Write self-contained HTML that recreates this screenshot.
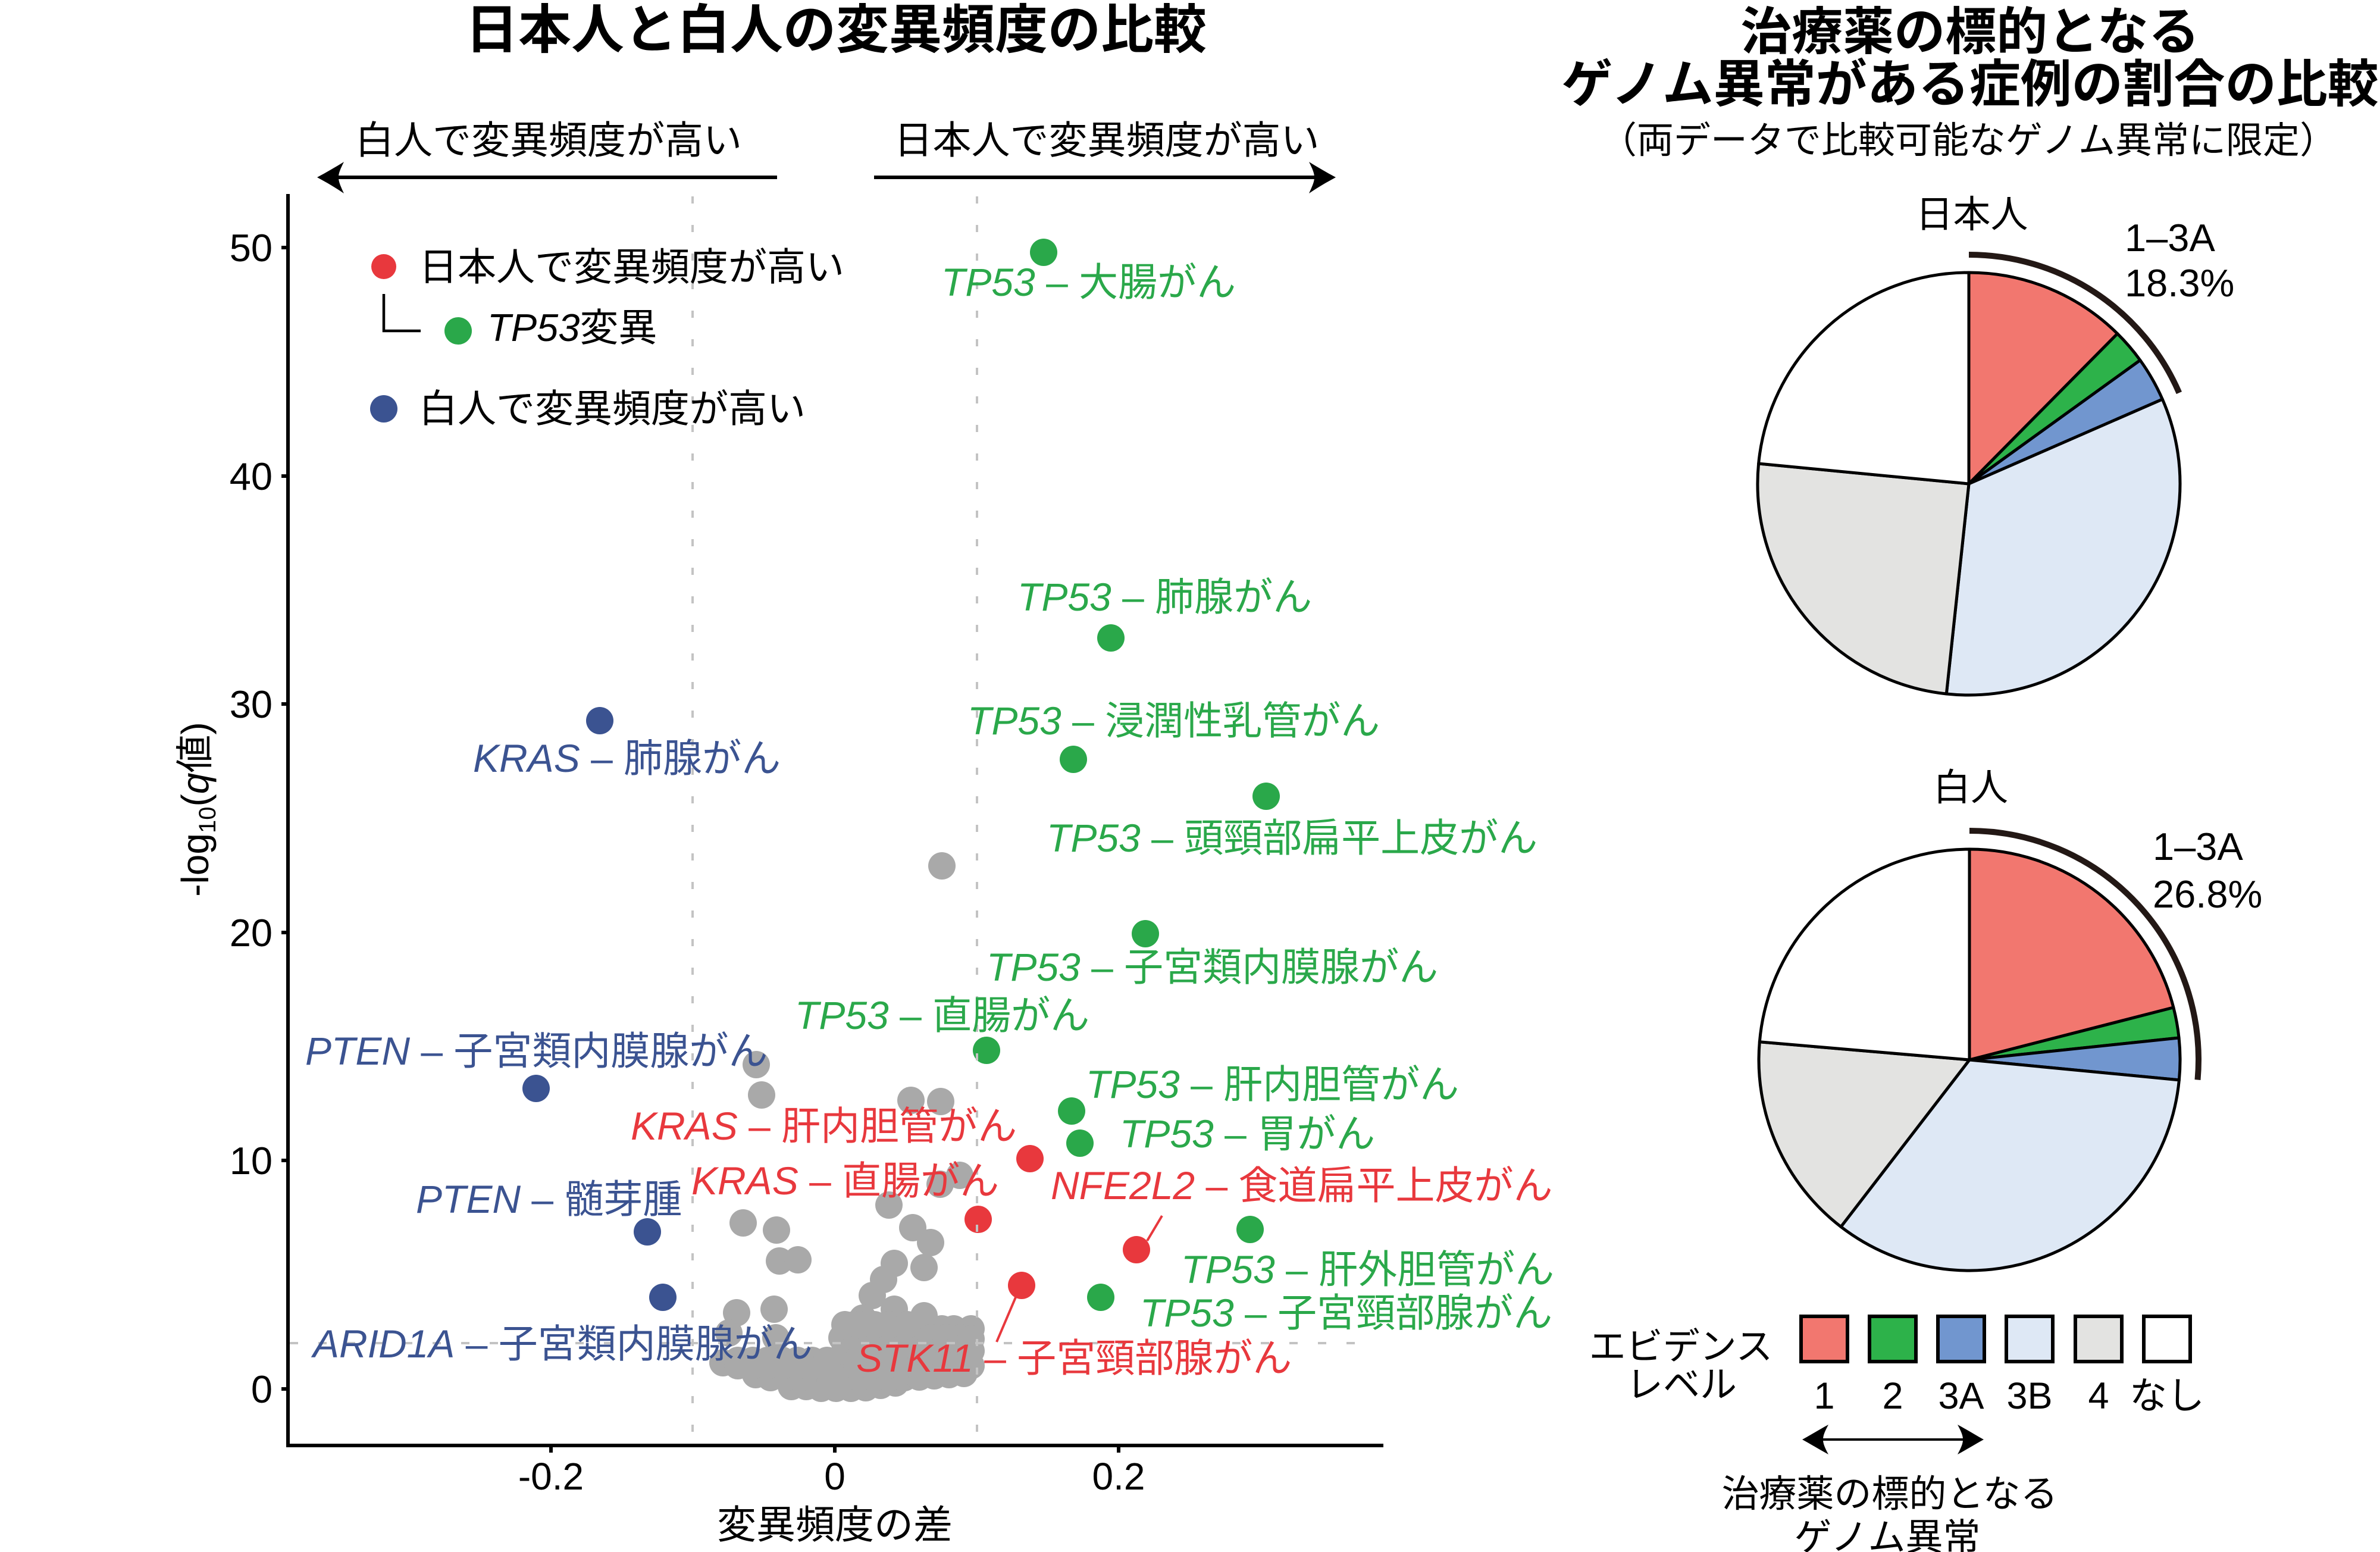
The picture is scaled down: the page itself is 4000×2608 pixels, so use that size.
<!DOCTYPE html>
<html><head><meta charset="utf-8">
<style>
html,body{margin:0;padding:0;background:#fff;}
svg{display:block;}
text{font-family:"Liberation Sans","Noto Sans CJK JP",sans-serif;}
</style></head>
<body>
<svg xmlns="http://www.w3.org/2000/svg" width="4000" height="2608" viewBox="0 0 4000 2608">
<rect width="4000" height="2608" fill="#fff"/>

<!-- LEFT TITLE -->
<text x="1405" y="81" font-size="89" font-weight="700" text-anchor="middle" fill="#000">日本人と白人の変異頻度の比較</text>

<!-- direction arrows -->
<text x="922" y="258" font-size="65" text-anchor="middle" fill="#000">白人で変異頻度が高い</text>
<text x="1860" y="258" font-size="65" text-anchor="middle" fill="#000">日本人で変異頻度が高い</text>
<line x1="560" y1="298" x2="1306" y2="298" stroke="#000" stroke-width="6"/>
<path d="M533,298 C548,290 565,280 578,272 C571,286 569,292 569,298 C569,304 571,310 578,325 C565,316 548,306 533,298 Z" fill="#000"/>
<line x1="1469" y1="298" x2="2218" y2="298" stroke="#000" stroke-width="6"/>
<path d="M2245,298 C2230,290 2213,280 2200,272 C2207,286 2209,292 2209,298 C2209,304 2207,310 2200,325 C2213,316 2230,306 2245,298 Z" fill="#000"/>

<!-- grey points -->
<g fill="#a9a9a9">
<circle cx="1583" cy="1455" r="23"/>
<circle cx="1271" cy="1789" r="23"/>
<circle cx="1280" cy="1840" r="23"/>
<circle cx="1531" cy="1849" r="23"/>
<circle cx="1581" cy="1851" r="23"/>
<circle cx="1580" cy="1990" r="23"/>
<circle cx="1613" cy="1975" r="23"/>
<circle cx="1494" cy="2025" r="23"/>
<circle cx="1249" cy="2055" r="23"/>
<circle cx="1305" cy="2067" r="23"/>
<circle cx="1534" cy="2063" r="23"/>
<circle cx="1564" cy="2088" r="23"/>
<circle cx="1310" cy="2119" r="23"/>
<circle cx="1341" cy="2117" r="23"/>
<circle cx="1503" cy="2123" r="23"/>
<circle cx="1553" cy="2130" r="23"/>
<circle cx="1485" cy="2150" r="23"/>
<circle cx="1466" cy="2177" r="23"/>
<circle cx="1238" cy="2206" r="23"/>
<circle cx="1301" cy="2200" r="23"/>
<circle cx="1503" cy="2200" r="23"/>
<circle cx="1553" cy="2211" r="23"/>
<circle cx="1431" cy="2227" r="23"/>
<circle cx="1450" cy="2215" r="23"/>
<circle cx="1583" cy="2233" r="23"/>
<circle cx="1603" cy="2233" r="23"/>
<circle cx="1632" cy="2233" r="23"/>
<circle cx="1225" cy="2240" r="23"/>
<circle cx="1304" cy="2248" r="23"/>
<!-- dense mass -->
<circle cx="1330" cy="2330" r="23"/><circle cx="1355" cy="2330" r="23"/><circle cx="1380" cy="2333" r="23"/><circle cx="1405" cy="2333" r="23"/><circle cx="1430" cy="2333" r="23"/><circle cx="1455" cy="2332" r="23"/><circle cx="1480" cy="2328" r="23"/><circle cx="1505" cy="2324" r="23"/>
<circle cx="1270" cy="2310" r="23"/><circle cx="1295" cy="2315" r="23"/><circle cx="1320" cy="2315" r="23"/><circle cx="1345" cy="2315" r="23"/><circle cx="1370" cy="2315" r="23"/><circle cx="1395" cy="2315" r="23"/><circle cx="1420" cy="2315" r="23"/><circle cx="1445" cy="2315" r="23"/><circle cx="1470" cy="2315" r="23"/><circle cx="1495" cy="2315" r="23"/><circle cx="1520" cy="2315" r="23"/><circle cx="1545" cy="2314" r="23"/><circle cx="1570" cy="2312" r="23"/><circle cx="1595" cy="2310" r="23"/><circle cx="1620" cy="2308" r="23"/>
<circle cx="1215" cy="2290" r="23"/><circle cx="1240" cy="2295" r="23"/><circle cx="1265" cy="2295" r="23"/><circle cx="1290" cy="2295" r="23"/><circle cx="1315" cy="2295" r="23"/><circle cx="1340" cy="2295" r="23"/><circle cx="1365" cy="2295" r="23"/><circle cx="1390" cy="2295" r="23"/><circle cx="1415" cy="2295" r="23"/><circle cx="1440" cy="2295" r="23"/><circle cx="1465" cy="2295" r="23"/><circle cx="1490" cy="2295" r="23"/><circle cx="1515" cy="2295" r="23"/><circle cx="1540" cy="2295" r="23"/><circle cx="1565" cy="2295" r="23"/><circle cx="1590" cy="2295" r="23"/><circle cx="1615" cy="2295" r="23"/><circle cx="1632" cy="2295" r="23"/>
<circle cx="1240" cy="2286" r="23"/><circle cx="1265" cy="2286" r="23"/><circle cx="1290" cy="2286" r="23"/><circle cx="1315" cy="2286" r="23"/><circle cx="1340" cy="2286" r="23"/><circle cx="1365" cy="2286" r="23"/><circle cx="1390" cy="2286" r="23"/>
<circle cx="1420" cy="2270" r="23"/><circle cx="1445" cy="2270" r="23"/><circle cx="1470" cy="2270" r="23"/><circle cx="1495" cy="2270" r="23"/><circle cx="1520" cy="2270" r="23"/><circle cx="1545" cy="2270" r="23"/><circle cx="1570" cy="2270" r="23"/><circle cx="1595" cy="2270" r="23"/><circle cx="1620" cy="2270" r="23"/><circle cx="1632" cy="2270" r="23"/>
<circle cx="1415" cy="2248" r="23"/><circle cx="1440" cy="2248" r="23"/><circle cx="1465" cy="2248" r="23"/><circle cx="1490" cy="2248" r="23"/><circle cx="1515" cy="2248" r="23"/><circle cx="1540" cy="2248" r="23"/><circle cx="1565" cy="2248" r="23"/><circle cx="1590" cy="2248" r="23"/><circle cx="1615" cy="2248" r="23"/><circle cx="1632" cy="2250" r="23"/>
<circle cx="1420" cy="2226" r="23"/><circle cx="1445" cy="2226" r="23"/><circle cx="1470" cy="2226" r="23"/><circle cx="1495" cy="2226" r="23"/><circle cx="1525" cy="2226" r="23"/>
</g>

<!-- colored points -->
<g fill="#2aa84a">
<circle cx="1754" cy="424" r="23"/>
<circle cx="1867" cy="1072" r="23"/>
<circle cx="1804" cy="1276" r="23"/>
<circle cx="2128" cy="1338" r="23"/>
<circle cx="1925" cy="1569" r="23"/>
<circle cx="1658" cy="1765" r="23"/>
<circle cx="1801" cy="1867" r="23"/>
<circle cx="1815" cy="1921" r="23"/>
<circle cx="2101" cy="2066" r="23"/>
<circle cx="1850" cy="2180" r="23"/>
</g>
<g fill="#e8383d">
<circle cx="1731" cy="1947" r="23"/>
<circle cx="1644" cy="2049" r="23"/>
<circle cx="1910" cy="2100" r="23"/>
<circle cx="1717" cy="2160" r="23"/>
</g>
<g fill="#3b5391">
<circle cx="1008" cy="1211" r="23"/>
<circle cx="901" cy="1829" r="23"/>
<circle cx="1088" cy="2070" r="23"/>
<circle cx="1114" cy="2180" r="23"/>
</g>

<!-- leader lines -->
<line x1="1928" y1="2085" x2="1953" y2="2043" stroke="#e8383d" stroke-width="4"/>
<line x1="1707" y1="2180" x2="1675" y2="2255" stroke="#e8383d" stroke-width="4"/>

<!-- dashed reference lines -->
<g stroke="#c3c3c3" stroke-width="4" fill="none">
<line x1="1164" y1="330" x2="1164" y2="2426" stroke-dasharray="12 36"/>
<line x1="1642" y1="330" x2="1642" y2="2426" stroke-dasharray="12 36"/>
<line x1="487" y1="2257" x2="2310" y2="2257" stroke-dasharray="14 34"/>
</g>

<!-- axes -->
<g stroke="#000" stroke-width="6" fill="none">
<line x1="484" y1="326" x2="484" y2="2432"/>
<line x1="481" y1="2429" x2="2325" y2="2429"/>
<line x1="473" y1="416" x2="484" y2="416"/>
<line x1="473" y1="800" x2="484" y2="800"/>
<line x1="473" y1="1183" x2="484" y2="1183"/>
<line x1="473" y1="1567" x2="484" y2="1567"/>
<line x1="473" y1="1950" x2="484" y2="1950"/>
<line x1="473" y1="2334" x2="484" y2="2334"/>
<line x1="926" y1="2429" x2="926" y2="2441"/>
<line x1="1403" y1="2429" x2="1403" y2="2441"/>
<line x1="1880" y1="2429" x2="1880" y2="2441"/>
</g>
<g font-size="65" fill="#000" text-anchor="end">
<text x="458" y="439">50</text>
<text x="458" y="823">40</text>
<text x="458" y="1206">30</text>
<text x="458" y="1590">20</text>
<text x="458" y="1973">10</text>
<text x="458" y="2357">0</text>
</g>
<g font-size="64" fill="#000" text-anchor="middle">
<text x="926" y="2503">-0.2</text>
<text x="1403" y="2503">0</text>
<text x="1880" y="2503">0.2</text>
</g>
<text x="1403" y="2585" font-size="66" text-anchor="middle" fill="#000">変異頻度の差</text>
<text transform="translate(350,1360) rotate(-90)" font-size="64" text-anchor="middle" fill="#000">-log<tspan font-size="40" dy="12">10</tspan><tspan dy="-12">(</tspan><tspan font-style="italic">q</tspan>値)</text>

<!-- legend -->
<circle cx="645" cy="448" r="21" fill="#e8383d"/>
<text x="704" y="471" font-size="65" fill="#000">日本人で変異頻度が高い</text>
<path d="M645,494 L645,556 L707,556" stroke="#000" stroke-width="4.5" fill="none"/>
<circle cx="770" cy="556" r="23" fill="#2aa84a"/>
<text x="819" y="573" font-size="65" fill="#000"><tspan font-style="italic">TP53</tspan>変異</text>
<circle cx="645" cy="687" r="23" fill="#3b5391"/>
<text x="704" y="709" font-size="65" fill="#000">白人で変異頻度が高い</text>

<!-- labels -->
<g font-size="66" fill="#2aa84a">
<text x="1582" y="497"><tspan font-style="italic">TP53</tspan> – 大腸がん</text>
<text x="1710" y="1026"><tspan font-style="italic">TP53</tspan> – 肺腺がん</text>
<text x="1626" y="1234"><tspan font-style="italic">TP53</tspan> – 浸潤性乳管がん</text>
<text x="1759" y="1431"><tspan font-style="italic">TP53</tspan> – 頭頸部扁平上皮がん</text>
<text x="1658" y="1648"><tspan font-style="italic">TP53</tspan> – 子宮類内膜腺がん</text>
<text x="1336" y="1729"><tspan font-style="italic">TP53</tspan> – 直腸がん</text>
<text x="1825" y="1845"><tspan font-style="italic">TP53</tspan> – 肝内胆管がん</text>
<text x="1882" y="1928"><tspan font-style="italic">TP53</tspan> – 胃がん</text>
<text x="1985" y="2156"><tspan font-style="italic">TP53</tspan> – 肝外胆管がん</text>
<text x="1916" y="2229"><tspan font-style="italic">TP53</tspan> – 子宮頸部腺がん</text>
</g>
<g font-size="66" fill="#e8383d">
<text x="1060" y="1915"><tspan font-style="italic">KRAS</tspan> – 肝内胆管がん</text>
<text x="1162" y="2007"><tspan font-style="italic">KRAS</tspan> – 直腸がん</text>
<text x="1766" y="2015"><tspan font-style="italic">NFE2L2</tspan> – 食道扁平上皮がん</text>
<text x="1439" y="2305"><tspan font-style="italic">STK11</tspan> – 子宮頸部腺がん</text>
</g>
<g font-size="66" fill="#3b5391">
<text x="795" y="1297"><tspan font-style="italic">KRAS</tspan> – 肺腺がん</text>
<text x="513" y="1789"><tspan font-style="italic">PTEN</tspan> – 子宮類内膜腺がん</text>
<text x="699" y="2038"><tspan font-style="italic">PTEN</tspan> – 髄芽腫</text>
<text x="526" y="2281"><tspan font-style="italic">ARID1A</tspan> – 子宮類内膜腺がん</text>
</g>

<!-- RIGHT TITLE -->
<text x="3311" y="83" font-size="86" font-weight="700" text-anchor="middle" fill="#000">治療薬の標的となる</text>
<text x="3311" y="171" font-size="86" font-weight="700" text-anchor="middle" fill="#000">ゲノム異常がある症例の割合の比較</text>
<text x="3308" y="257" font-size="62" text-anchor="middle" fill="#000">（両データで比較可能なゲノム異常に限定）</text>

<!-- PIE 1 -->
<text x="3314" y="382" font-size="63" text-anchor="middle" fill="#000">日本人</text>
<g stroke="#000" stroke-width="5" stroke-linejoin="round">
<path d="M3309,813 L3309,458 A355,355 0 0 1 3558.7,560.7 Z" fill="#f2776f"/>
<path d="M3309,813 L3558.7,560.7 A355,355 0 0 1 3596.9,605.3 Z" fill="#2db24a"/>
<path d="M3309,813 L3596.9,605.3 A355,355 0 0 1 3634.3,670.9 Z" fill="#7196cf"/>
<path d="M3309,813 L3634.3,670.9 A355,355 0 0 1 3271.3,1166 Z" fill="#dee8f5"/>
<path d="M3309,813 L3271.3,1166 A355,355 0 0 1 2955.6,779 Z" fill="#e3e3e1"/>
<path d="M3309,813 L2955.6,779 A355,355 0 0 1 3309,458 Z" fill="#ffffff"/>
</g>
<path d="M3309,428 A385,385 0 0 1 3662.4,660.1" stroke="#231815" stroke-width="10" fill="none"/>
<text x="3571" y="422" font-size="65" fill="#000">1–3A</text>
<text x="3571" y="498" font-size="65" fill="#000">18.3%</text>

<!-- PIE 2 -->
<text x="3312" y="1345" font-size="63" text-anchor="middle" fill="#000">白人</text>
<g stroke="#000" stroke-width="5" stroke-linejoin="round">
<path d="M3310,1781 L3310,1427 A354,354 0 0 1 3652.9,1693 Z" fill="#f2776f"/>
<path d="M3310,1781 L3652.9,1693 A354,354 0 0 1 3662.1,1744 Z" fill="#2db24a"/>
<path d="M3310,1781 L3662.1,1744 A354,354 0 0 1 3662.4,1814.9 Z" fill="#7196cf"/>
<path d="M3310,1781 L3662.4,1814.9 A354,354 0 0 1 3094,2061.5 Z" fill="#dee8f5"/>
<path d="M3310,1781 L3094,2061.5 A354,354 0 0 1 2957.3,1750.8 Z" fill="#e3e3e1"/>
<path d="M3310,1781 L2957.3,1750.8 A354,354 0 0 1 3310,1427 Z" fill="#ffffff"/>
</g>
<path d="M3310,1396 A385,385 0 0 1 3693.5,1814.6" stroke="#231815" stroke-width="10" fill="none"/>
<text x="3618" y="1445" font-size="65" fill="#000">1–3A</text>
<text x="3618" y="1525" font-size="65" fill="#000">26.8%</text>

<!-- evidence legend -->
<text x="2825" y="2284" font-size="62" text-anchor="middle" fill="#000">エビデンス</text>
<text x="2826" y="2348" font-size="62" text-anchor="middle" fill="#000">レベル</text>
<g stroke="#000" stroke-width="6">
<rect x="3027" y="2212" width="78" height="76" fill="#f2776f"/>
<rect x="3142" y="2212" width="78" height="76" fill="#2db24a"/>
<rect x="3257" y="2212" width="78" height="76" fill="#7196cf"/>
<rect x="3372" y="2212" width="78" height="76" fill="#dee8f5"/>
<rect x="3488" y="2212" width="78" height="76" fill="#e3e3e1"/>
<rect x="3603" y="2212" width="78" height="76" fill="#ffffff"/>
</g>
<g font-size="63" text-anchor="middle" fill="#000">
<text x="3066" y="2367">1</text>
<text x="3181" y="2367">2</text>
<text x="3296" y="2367">3A</text>
<text x="3411" y="2367">3B</text>
<text x="3527" y="2367">4</text>
<text x="3642" y="2367">なし</text>
</g>
<line x1="3050" y1="2419" x2="3313" y2="2419" stroke="#000" stroke-width="4"/>
<path d="M3029,2419 C3042,2412 3058,2402 3073,2394 C3066,2407 3064,2413 3064,2419 C3064,2425 3066,2431 3073,2444 C3058,2436 3042,2426 3029,2419 Z" fill="#000"/>
<path d="M3334,2419 C3321,2412 3305,2402 3290,2394 C3297,2407 3299,2413 3299,2419 C3299,2425 3297,2431 3290,2444 C3305,2436 3321,2426 3334,2419 Z" fill="#000"/>
<text x="3176" y="2532" font-size="63" text-anchor="middle" fill="#000">治療薬の標的となる</text>
<text x="3172" y="2605" font-size="63" text-anchor="middle" fill="#000">ゲノム異常</text>
</svg>
</body></html>
